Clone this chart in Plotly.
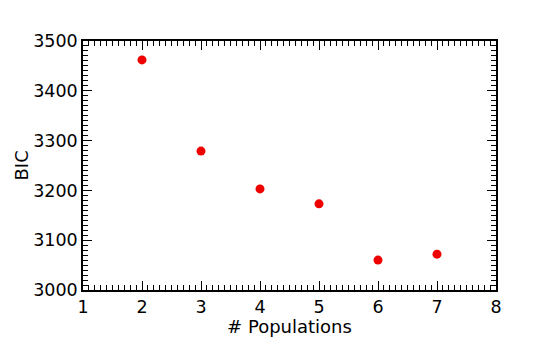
import plotly.graph_objects as go

populations = [2, 3, 4, 5, 6, 7]
bic_values = [3462, 3279, 3203, 3173, 3060, 3072]

FONT = "DejaVu Sans"

fig = go.Figure(
    go.Scatter(
        x=populations,
        y=bic_values,
        mode="markers",
        marker=dict(color="#ee0000", size=9),
    )
)

axis_common = dict(
    showgrid=False,
    zeroline=False,
    showline=True,
    linecolor="black",
    linewidth=1.5,
    mirror="allticks",
    ticks="inside",
    ticklen=9,
    tickwidth=1.2,
    tickcolor="black",
    tickfont=dict(family=FONT, size=17.5, color="black"),
    automargin=False,
)

fig.update_xaxes(
    range=[1, 8],
    dtick=1,
    title=dict(text="# Populations", font=dict(family=FONT, size=18, color="black"), standoff=0),
    minor=dict(ticks="inside", dtick=0.1, ticklen=5, tickwidth=1, tickcolor="black"),
    **axis_common,
)
fig.update_yaxes(
    range=[3000, 3500],
    dtick=100,
    minor=dict(ticks="inside", dtick=10, ticklen=5, tickwidth=1, tickcolor="black"),
    **axis_common,
)

# y title as an annotation, kept inside the paper so it is not clipped
fig.add_annotation(
    text="BIC",
    xref="paper",
    yref="paper",
    x=0,
    y=0.5,
    xanchor="center",
    yanchor="middle",
    xshift=-62,
    textangle=-90,
    showarrow=False,
    font=dict(family=FONT, size=18, color="black"),
)

# page body adds an 8px margin, so the figure is sized to fit inside the window
fig.update_layout(
    width=530,
    height=329,
    margin=dict(l=75, r=42, t=33, b=47),
    plot_bgcolor="white",
    paper_bgcolor="white",
    showlegend=False,
    font=dict(family=FONT, color="black"),
)

fig.write_html("out.html")
